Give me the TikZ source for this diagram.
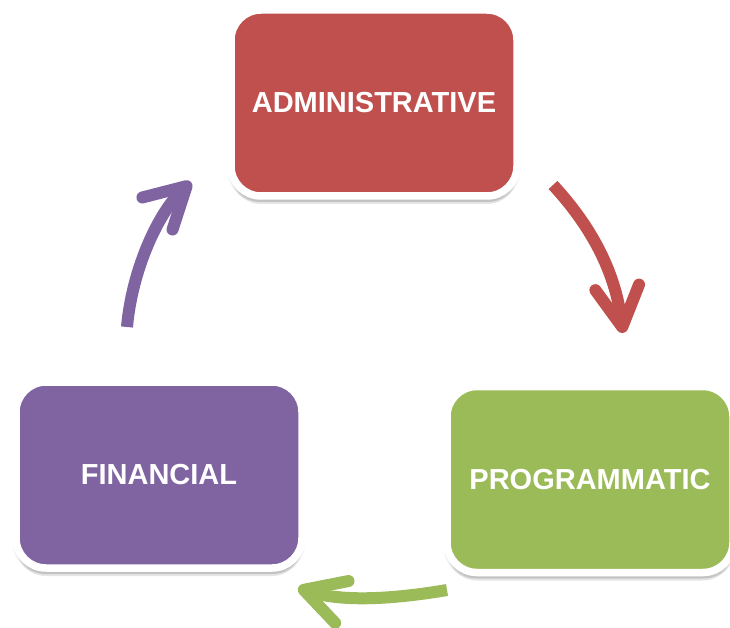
\documentclass[tikz,border=0pt]{standalone}
\usepackage{fontspec}
\setmainfont{Liberation Sans}
\usetikzlibrary{arrows.meta,shadows}
\definecolor{admred}{RGB}{192,80,77}
\definecolor{proggreen}{RGB}{155,187,89}
\definecolor{finpurple}{RGB}{128,100,162}
\tikzset{
  box/.style={draw=white, line width=7.5pt, rounded corners=30pt,
    minimum width=286pt, minimum height=186pt, text=white,
    font=\fontsize{29}{34}\selectfont\bfseries,
    general shadow={shadow scale=1.02, shadow yshift=-4pt, fill=black, opacity=0.06},
    general shadow={shadow yshift=-6pt, fill=black, opacity=0.10},
    general shadow={shadow yshift=-8pt, fill=black, opacity=0.10}},
  cyc/.style={line width=12pt, -{Straight Barb[length=40pt,width=44pt,round]}}
}

\begin{document}
\begin{tikzpicture}[x=1pt, y=-1pt]
				\useasboundingbox (0,0) rectangle (730,628);

				\node[box, fill=admred] (adm) at (374,103) {ADMINISTRATIVE};
				\node[box, fill=proggreen] (prog) at (590,479.5) {PROGRAMMATIC};
				\node[box, fill=finpurple] (fin) at (159,475) {FINANCIAL};

				\coordinate (r0) at (553,185); \coordinate (r1) at (623,333);
				\coordinate (g0) at (447,590); \coordinate (g1) at (298,588);
				\coordinate (p0) at (127,327); \coordinate (p1) at (191,182);

				\draw[cyc, admred] (r0) .. controls (590,225) and (615,270) .. (r1);
				\draw[cyc, proggreen] (g0) .. controls (400,598) and (345,603) .. (g1);
				\draw[cyc, finpurple] (p0) .. controls (132,270) and (158,213) .. (p1);

\end{tikzpicture}
\end{document}
